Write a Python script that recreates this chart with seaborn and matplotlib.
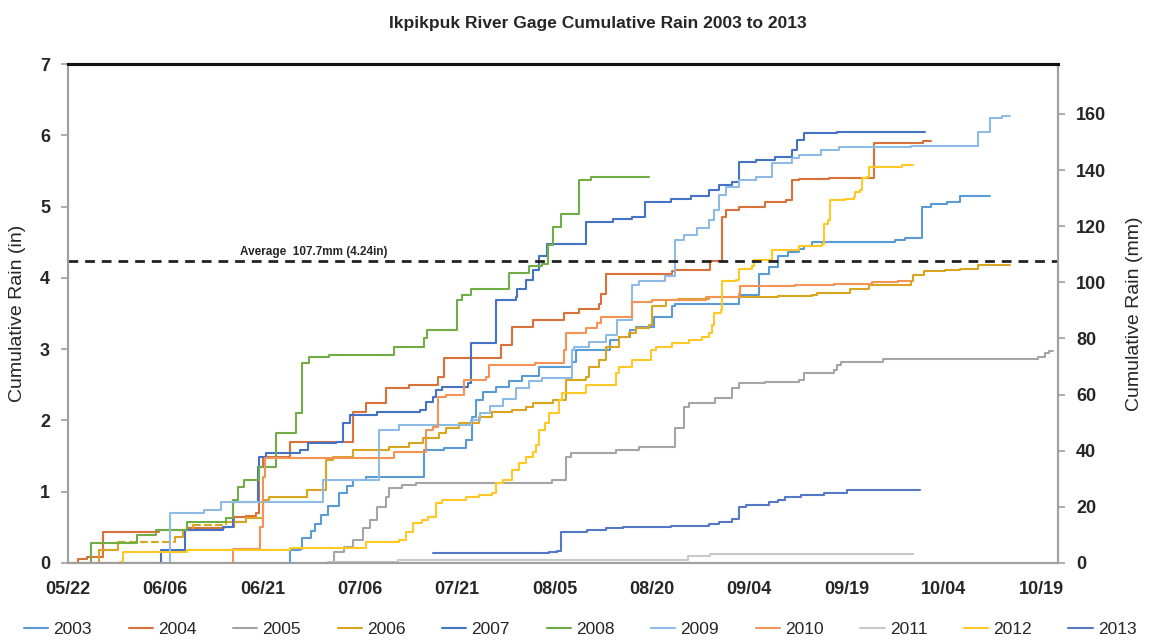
import numpy as np
import pandas as pd
import matplotlib
matplotlib.use("Agg")
import matplotlib.pyplot as plt
import seaborn as sns

# x = days after 05/22, y = cumulative rain in inches
d2003 = [24, 34.2, 35.7, 36, 37.5, 38, 39, 40, 41.8, 43, 43.9, 46, 54.9, 58, 61.3, 62.3, 62.9, 64, 66, 68,
         70, 72.6, 77.7, 78.3, 83.6, 85, 86.7, 87.5, 90.3, 93.1, 93.6, 103.4, 106.5, 108, 109.5, 111, 112.6,
         113.5, 114.7, 127.5, 129, 131.6, 133, 135.5, 137.5, 142.1]
v2003 = [0, 0.18, 0.20, 0.35, 0.45, 0.55, 0.68, 0.80, 0.98, 1.08, 1.16, 1.20, 1.58, 1.62, 1.73, 2.05, 2.29,
         2.40, 2.47, 2.55, 2.62, 2.75, 2.82, 2.99, 3.13, 3.17, 3.27, 3.31, 3.45, 3.60, 3.64, 3.76, 4.06, 4.15,
         4.30, 4.36, 4.40, 4.45, 4.51, 4.53, 4.56, 5.00, 5.03, 5.06, 5.15, 5.15]

d2004 = [0.3, 1.5, 3, 5.4, 14, 18.5, 24, 25.6, 27.4, 28.9, 29.5, 30, 34.2, 43.9, 46, 49, 52.6, 57, 58, 66.7,
         68.5, 71.6, 76.5, 78.8, 81.8, 82.1, 82.9, 93.1, 93.6, 99, 100.8, 101.5, 103.4, 107.5, 110.6, 111.6,
         112.6, 117.3, 124.3, 131.8, 133]
v2004 = [0, 0.05, 0.08, 0.44, 0.46, 0.49, 0.51, 0.64, 0.66, 0.70, 1.35, 1.49, 1.70, 2.12, 2.24, 2.45, 2.50,
         2.61, 2.87, 3.06, 3.31, 3.41, 3.50, 3.57, 3.64, 3.78, 4.06, 4.09, 4.11, 4.23, 4.86, 4.95, 5.00, 5.07,
         5.09, 5.37, 5.38, 5.40, 5.89, 5.92, 5.92]

d2005 = [39.4, 41, 42.5, 43.9, 45.4, 46.5, 47.7, 49, 49.5, 51.5, 53.6, 74.6, 76.7, 77.5, 84.4, 88, 93.6, 94.9,
         95.7, 99.8, 102.3, 103.4, 107.5, 112.6, 113.4, 118, 118.5, 119.2, 125.7, 149.5, 150.6, 151.2, 151.8]
v2005 = [0, 0.15, 0.22, 0.32, 0.49, 0.60, 0.79, 0.93, 1.05, 1.09, 1.12, 1.16, 1.49, 1.54, 1.58, 1.63, 1.89,
         2.19, 2.24, 2.31, 2.45, 2.52, 2.54, 2.57, 2.66, 2.71, 2.78, 2.82, 2.86, 2.89, 2.94, 2.98, 2.98]

d2006 = [4, 4.7, 7.7, 16.5, 17.7, 19.3, 24.4, 27.5, 30, 31, 36.9, 39.8, 40.8, 43.9, 49.5, 52.6, 54.7, 57.2,
         58.3, 60.3, 63.4, 65.4, 68.5, 70.6, 71.6, 74.7, 76.7, 79.8, 80.3, 81.8, 82.9, 84.9, 86.5, 87.5, 89.5,
         90, 92.1, 94, 98.8, 109.5, 114.7, 115.5, 120.6, 123.5, 130, 130.3, 132, 135.2, 137.5, 140.3, 145.2]
v2006 = [0, 0.18, 0.30, 0.37, 0.46, 0.53, 0.58, 0.63, 0.88, 0.93, 1.02, 1.44, 1.49, 1.58, 1.63, 1.68, 1.75,
         1.82, 1.89, 1.96, 2.05, 2.12, 2.15, 2.19, 2.24, 2.29, 2.57, 2.61, 2.75, 2.85, 3.03, 3.17, 3.22, 3.29,
         3.34, 3.60, 3.69, 3.70, 3.73, 3.74, 3.76, 3.79, 3.84, 3.90, 3.95, 4.04, 4.09, 4.11, 4.13, 4.18, 4.18]
gaps2006 = [(7.7, 16.5), (19.3, 24.4)]   # stretches drawn dashed in the original

d2007 = [0, 14.4, 18, 23.9, 25.4, 29.3, 29.5, 30.5, 35.7, 37, 41.3, 42.4, 43.4, 47.7, 54.2, 55.2, 56.2, 56.7,
         57.7, 61.6, 62.1, 66, 69, 69.2, 70.6, 71.6, 72.6, 73.9, 79.8, 84, 87, 89, 93, 96, 98.8, 100.3, 102.3,
         103.4, 106, 109, 111.6, 112.3, 113.4, 118.6, 132.1]
v2007 = [0, 0.18, 0.46, 0.51, 0.86, 1.35, 1.49, 1.54, 1.58, 1.68, 1.70, 1.96, 2.08, 2.12, 2.15, 2.26, 2.33,
         2.43, 2.47, 2.52, 3.08, 3.69, 3.73, 3.85, 3.97, 4.11, 4.30, 4.48, 4.79, 4.82, 4.85, 5.07, 5.10, 5.15,
         5.23, 5.30, 5.35, 5.63, 5.65, 5.70, 5.79, 5.93, 6.03, 6.04, 6.04]

d2008 = [3.4, 3.5, 10.6, 13.6, 18.3, 24.4, 25.4, 26.2, 27.2, 29.5, 32.1, 35.2, 36, 37.2, 40.3, 50.3, 54.9,
         55.4, 60, 60.8, 62.1, 68, 71.1, 73, 74, 74.7, 76, 78.7, 80.6, 89.5]
v2008 = [0, 0.28, 0.39, 0.46, 0.58, 0.63, 0.88, 1.07, 1.16, 1.35, 1.82, 2.10, 2.80, 2.89, 2.92, 3.03, 3.15,
         3.27, 3.69, 3.76, 3.85, 4.07, 4.16, 4.20, 4.46, 4.72, 4.90, 5.37, 5.41, 5.41]

d2009 = [8, 15.7, 21, 23.6, 39.3, 48, 51, 62.1, 63.5, 65, 67, 69, 71, 73, 77.7, 78, 80.3, 83, 84.6, 87, 88, 92,
         93.6, 95, 97, 98.8, 99.5, 100.3, 101.5, 103.4, 106, 108.5, 111.6, 112.6, 116, 118.8, 130, 140.3,
         142.1, 144, 145.2]
v2009 = [0, 0.70, 0.75, 0.86, 1.16, 1.87, 1.94, 2.00, 2.10, 2.20, 2.30, 2.45, 2.55, 2.60, 2.99, 3.03, 3.10,
         3.20, 3.41, 3.90, 3.95, 4.02, 4.53, 4.60, 4.70, 4.81, 4.95, 5.16, 5.28, 5.37, 5.42, 5.61, 5.68, 5.72,
         5.79, 5.84, 5.85, 6.05, 6.24, 6.27, 6.27]

d2010 = [25.2, 25.4, 29.6, 30.0, 30.3, 50.3, 55.2, 56.2, 57.0, 58.3, 61.1, 64.4, 64.9, 72, 76.5, 76.7, 79.8,
         81.5, 82.1, 87, 90, 98.3, 103.4, 103.6, 112, 118, 124, 128, 130]
v2010 = [0, 0.20, 0.50, 1.20, 1.47, 1.56, 1.87, 1.91, 2.33, 2.36, 2.57, 2.61, 2.78, 2.80, 2.99, 3.22, 3.29,
         3.36, 3.45, 3.66, 3.69, 3.73, 3.78, 3.88, 3.90, 3.92, 3.94, 3.95, 3.95]

d2011 = [40, 50.8, 95.5, 98.9, 130.3]
v2011 = [0.01, 0.04, 0.10, 0.13, 0.13]

d2012 = [5.4, 8, 8.5, 18.3, 34.2, 46, 51, 52.1, 53.1, 54.6, 55.5, 56.7, 57.7, 61.3, 63.4, 65.4, 66, 67, 68.5,
         69.5, 70.6, 71.6, 72.1, 72.6, 73.6, 74.2, 75.7, 76.2, 79.8, 84.4, 84.9, 87, 89.8, 90.6, 93.1, 95.7,
         97.7, 98.8, 99.3, 99.6, 100.6, 100.8, 102.9, 103.4, 105.4, 105.7, 108.5, 112.6, 116.2, 116.5, 117.2,
         117.5, 119.8, 121.1, 121.3, 122.1, 122.4, 123.1, 123.4, 128.5, 130.3]
v2012 = [0, 0.02, 0.16, 0.18, 0.21, 0.30, 0.32, 0.44, 0.56, 0.60, 0.65, 0.84, 0.88, 0.93, 0.95, 0.98, 1.12,
         1.16, 1.30, 1.40, 1.49, 1.56, 1.65, 1.87, 1.96, 2.10, 2.29, 2.38, 2.50, 2.66, 2.75, 2.85, 2.99, 3.03,
         3.08, 3.13, 3.17, 3.22, 3.34, 3.50, 3.55, 3.95, 3.97, 4.13, 4.16, 4.25, 4.39, 4.44, 4.47, 4.76, 4.81,
         5.09, 5.11, 5.14, 5.21, 5.23, 5.40, 5.42, 5.56, 5.58, 5.58]

d2013 = [56.2, 74.2, 75.4, 76, 80, 83, 85.5, 93, 98.8, 100.3, 102.3, 103.4, 104.5, 108, 109.5, 110.5, 113,
         116.5, 120, 131.3]
v2013 = [0.14, 0.15, 0.17, 0.44, 0.46, 0.49, 0.50, 0.52, 0.54, 0.58, 0.62, 0.79, 0.82, 0.85, 0.88, 0.93,
         0.95, 0.98, 1.02, 1.02]

years = ["2003", "2004", "2005", "2006", "2007", "2008", "2009", "2010", "2011", "2012", "2013"]
days = [d2003, d2004, d2005, d2006, d2007, d2008, d2009, d2010, d2011, d2012, d2013]
rain = [v2003, v2004, v2005, v2006, v2007, v2008, v2009, v2010, v2011, v2012, v2013]
gaps = {"2006": gaps2006}
colors = ["#5B9BD5", "#D8723A", "#A5A5A5", "#D9A520", "#4472C4", "#70AD47",
          "#8DBBE6", "#F39355", "#C9C9C9", "#FFC824", "#5477C6"]

tick_days = [0, 15, 30, 45, 60, 75, 90, 105, 120, 135, 150]
tick_labels = ["05/22", "06/06", "06/21", "07/06", "07/21", "08/05", "08/20", "09/04", "09/19", "10/04", "10/19"]
avg_in = 4.24
avg_text = "Average  107.7mm (4.24in)"


def split_pieces(d, v, spans):
    # cut a step series into solid / dashed pieces
    df = pd.DataFrame({"day": d, "rain": v})
    pieces = []
    start = df["day"].min()
    for a, b in spans:
        pieces.append((df[(df.day >= start) & (df.day <= a)], "-"))
        pieces.append((df[(df.day >= a) & (df.day <= b)], "--"))
        start = b
    pieces.append((df[df.day >= start], "-"))
    return pieces


sns.set_style("white")
plt.rcParams['font.family'] = ['Liberation Sans Narrow', 'Liberation Sans', 'DejaVu Sans']

fig = plt.figure(figsize=(11.49, 6.44), dpi=100)
ax = fig.add_axes([0.0592, 0.1258, 0.8616, 0.7748])

for yr, d, v, c in zip(years, days, rain, colors):
    for k, (part, ls) in enumerate(split_pieces(d, v, gaps.get(yr, []))):
        sns.lineplot(data=part, x="day", y="rain", color=c, lw=1.5, ls=ls, drawstyle="steps-post",
                     estimator=None, sort=False, label=yr if k == 0 else "_nolegend_", ax=ax, legend=False)

ax.axhline(avg_in, color="#222222", lw=2, ls=(0, (3.5, 2.5)))
ax.text(26.5, avg_in + 0.04, avg_text, fontsize=8.5, fontweight="bold", va="bottom", ha="left")

ax.set_xlim(0, 152.6)
ax.set_ylim(0, 7)
ax.set_xticks(tick_days)
ax.set_xticklabels(tick_labels, fontsize=13, fontweight="bold")
ax.set_yticks(range(0, 8))
ax.set_yticklabels([str(i) for i in range(0, 8)], fontsize=13, fontweight="bold")
ax.set_xlabel("")
ax.set_ylabel("Cumulative Rain (in)", fontsize=14, labelpad=10)
ax.tick_params(axis="x", direction="out", length=7, width=1.2, color="#A0A0A0", pad=6)
ax.tick_params(axis="y", direction="out", length=5, width=1.2, color="#A0A0A0", pad=8)

ax2 = ax.twinx()
ax2.set_ylim(0, 7 * 25.4)
ax2.set_yticks(range(0, 161, 20))
ax2.set_yticklabels([str(i) for i in range(0, 161, 20)], fontsize=13, fontweight="bold")
ax2.set_ylabel("Cumulative Rain (mm)", fontsize=14, labelpad=14)
ax2.tick_params(axis="y", direction="out", length=5, width=1.2, color="#A0A0A0", pad=8)

for a in (ax, ax2):
    for s in ("left", "bottom", "right"):
        a.spines[s].set_color("#A0A0A0")
        a.spines[s].set_linewidth(1.5)
    a.spines["top"].set_color("#111111")
    a.spines["top"].set_linewidth(2.2)

fig.suptitle("Ikpikpuk River Gage Cumulative Rain 2003 to 2013", x=0.52, y=0.975,
             fontsize=12.5, fontweight="bold", va="top")

handles, labels = ax.get_legend_handles_labels()
fig.legend(handles, labels, loc="center", bbox_to_anchor=(0.505, 0.022), ncol=11, frameon=False,
           fontsize=12.5, handlelength=1.4, handletextpad=0.3, columnspacing=2.1)

fig.savefig("out.png", dpi=100)
